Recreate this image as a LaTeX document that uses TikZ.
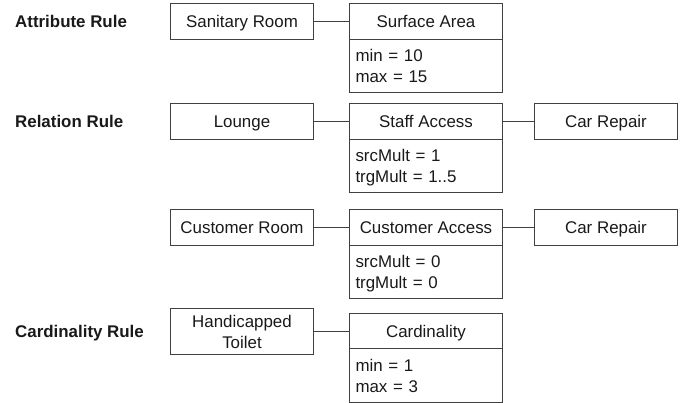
\documentclass[tikz,border=0pt]{standalone}
\usepackage{fontspec}
\setmainfont{Liberation Sans}
% fixed line height so every label sits at the same height in its box
\newcommand\rowstrut{\rule[-3.6pt]{0pt}{19.3pt}}
\begin{document}
\begin{tikzpicture}[x=1pt,y=-1pt,
  every node/.style={font=\fontsize{16.9}{21}\selectfont, text=black!90},
  box/.style={draw=black!75, line width=1pt, inner sep=0pt, anchor=north west,
              minimum height=36pt, align=center},
  leftbox/.style={box, minimum width=143pt},
  midbox/.style={box, minimum width=153pt},
  attrbox/.style={draw=black!75, line width=1pt, anchor=north west,
              inner xsep=6pt, inner ysep=0pt, text width=141pt, align=left,
              minimum height=53pt},
  rulelabel/.style={anchor=west, inner sep=0pt, font=\fontsize{16.9}{21}\selectfont\bfseries},
  link/.style={draw=black!75, line width=1pt}
]
\useasboundingbox (0,0) rectangle (688,403);

% rule captions
\node[rulelabel] (lAttr) at (15,21) {\rowstrut Attribute Rule};
\node[rulelabel] (lRel)  at (15,121) {\rowstrut Relation Rule};
\node[rulelabel] (lCard) at (15,331) {\rowstrut Cardinality Rule};

% attribute rule
\node[leftbox] (san) at (170,3) {\rowstrut Sanitary Room};
\node[midbox]  (surf) at (349,3) {\rowstrut Surface Area};
\node[attrbox] (surfB) at (349,39) {\rowstrut min = 10\\\rowstrut max = 15};
\draw[link] (san.east) -- (san.east -| surf.west);

% relation rule: staff access
\node[leftbox] (lounge) at (170,103) {\rowstrut Lounge};
\node[midbox]  (staff) at (349,103) {\rowstrut Staff Access};
\node[attrbox] (staffB) at (349,139) {\rowstrut srcMult = 1\\\rowstrut trgMult = 1..5};
\node[box, minimum width=143pt] (car1) at (534,103) {\rowstrut Car Repair};
\draw[link] (lounge.east) -- (lounge.east -| staff.west);
\draw[link] (staff.east) -- (staff.east -| car1.west);

% relation rule: customer access
\node[leftbox] (cust) at (170,209) {\rowstrut Customer Room};
\node[midbox]  (custA) at (349,209) {\rowstrut Customer Access};
\node[attrbox] (custB) at (349,245) {\rowstrut srcMult = 0\\\rowstrut trgMult = 0};
\node[box, minimum width=143pt] (car2) at (534,209) {\rowstrut Car Repair};
\draw[link] (cust.east) -- (cust.east -| custA.west);
\draw[link] (custA.east) -- (custA.east -| car2.west);

% cardinality rule
\node[leftbox, minimum height=46pt] (toilet) at (170,308) {\rowstrut Handicapped\\\rowstrut Toilet};
\node[midbox, minimum height=35pt] (card) at (349,313) {\rowstrut Cardinality};
\node[attrbox, minimum height=54pt] (cardB) at (349,348) {\rowstrut min = 1\\\rowstrut max = 3};
\draw[link] (toilet.east) -- (toilet.east -| card.west);
\end{tikzpicture}
\end{document}
